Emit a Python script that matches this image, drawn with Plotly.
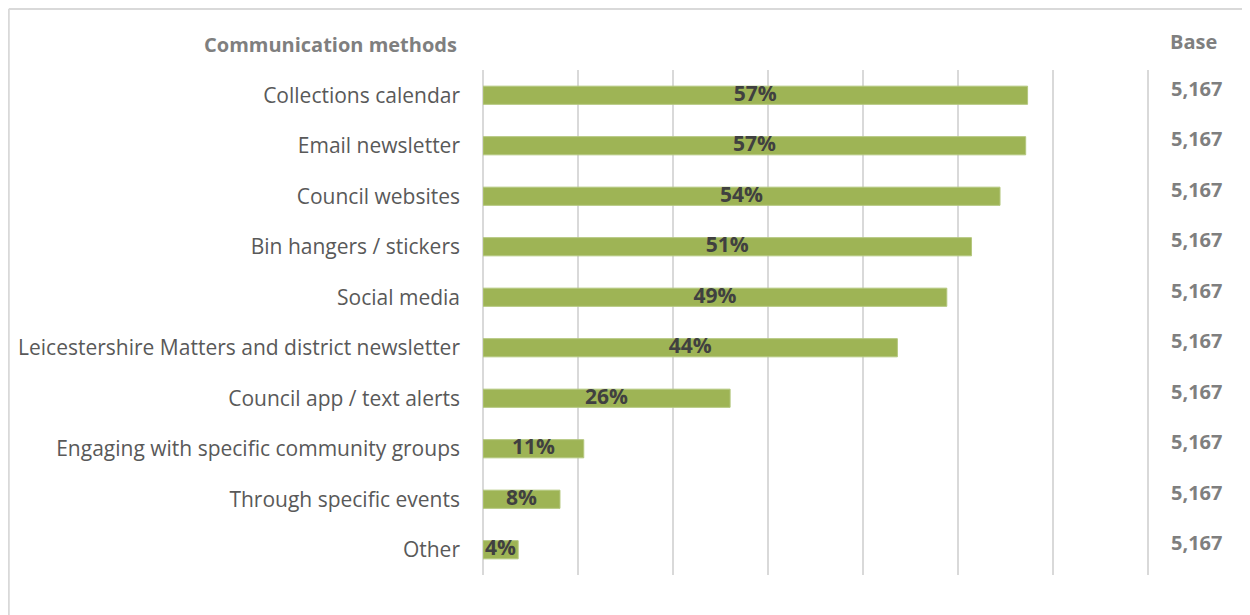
import plotly.graph_objects as go

categories = [
    "Collections calendar",
    "Email newsletter",
    "Council websites",
    "Bin hangers / stickers",
    "Social media",
    "Leicestershire Matters and district newsletter",
    "Council app / text alerts",
    "Engaging with specific community groups",
    "Through specific events",
    "Other",
]
values = [57.3, 57.1, 54.4, 51.4, 48.8, 43.6, 26.0, 10.6, 8.1, 3.7]
value_labels = ["57%", "57%", "54%", "51%", "49%", "44%", "26%", "11%", "8%", "4%"]
bases = ["5,167"] * 10

FONT = "Open Sans"
BAR = "#9EB455"

OFF = 8  # page body margin
W, H = 1250 - OFF, 615 - OFF
# target pixel positions in the screenshot
PX0, PX70, PY_TOP, PY_BOT = 483, 1148, 70, 575
XMAX = 70.6
px_per_unit = (PX70 - PX0) / 70
pw = px_per_unit * XMAX
L = PX0 - OFF
R = W - L - pw
T = PY_TOP - OFF
B = H - (PY_BOT - OFF)
ph = PY_BOT - PY_TOP


def xp(px):
    return (px - PX0) / pw


def yp(py):
    return (PY_BOT - py) / ph


fig = go.Figure()
fig.add_trace(go.Bar(
    y=categories, x=values, orientation="h",
    marker=dict(color=BAR, line=dict(color="#B4C77E", width=1)),
    width=0.36, hoverinfo="skip", showlegend=False,
))
fig.add_trace(go.Scatter(
    y=categories, x=[v / 2 for v in values], mode="text",
    text=value_labels, textposition="middle center",
    textfont=dict(family=FONT, size=21, color="#404040", weight="bold"),
    hoverinfo="skip", showlegend=False, cliponaxis=False,
))

for cat, b in zip(categories, bases):
    fig.add_annotation(
        x=xp(1196), xref="paper", y=cat, yref="y", yshift=7,
        text=b, showarrow=False, xanchor="center",
        font=dict(family=FONT, size=20, color="#7F7F7F", weight="bold"),
    )

fig.add_annotation(x=xp(459), xref="paper", y=yp(45), yref="paper",
                   text="Communication methods", showarrow=False, xanchor="right", yanchor="middle",
                   font=dict(family=FONT, size=20, color="#7F7F7F", weight="bold"))
fig.add_annotation(x=xp(1193), xref="paper", y=yp(42), yref="paper",
                   text="Base", showarrow=False, xanchor="center", yanchor="middle",
                   font=dict(family=FONT, size=20, color="#7F7F7F", weight="bold"))

# outer frame lines (left and top), placed at the figure's edge
fig.add_shape(type="line", xref="paper", yref="paper", x0=xp(9), x1=xp(9), y0=yp(640), y1=yp(9),
              line=dict(color="#D9D9D9", width=2))
fig.add_shape(type="line", xref="paper", yref="paper", x0=xp(9), x1=xp(1300), y0=yp(9), y1=yp(9),
              line=dict(color="#D9D9D9", width=2))

fig.update_layout(
    width=W, height=H,
    margin=dict(l=L, r=R, t=T, b=B, autoexpand=False),
    plot_bgcolor="white", paper_bgcolor="white",
    xaxis=dict(range=[0, XMAX], dtick=10, showticklabels=False, showgrid=True,
               gridcolor="#D9D9D9", gridwidth=1.5, zeroline=True, zerolinecolor="#D9D9D9",
               zerolinewidth=2, showline=False, fixedrange=True),
    yaxis=dict(autorange="reversed", showgrid=False, zeroline=False, showline=False,
               ticks="", ticklabelstandoff=22,
               tickfont=dict(family=FONT, size=21, color="#595959"), fixedrange=True),
)

fig.write_html("out.html")
